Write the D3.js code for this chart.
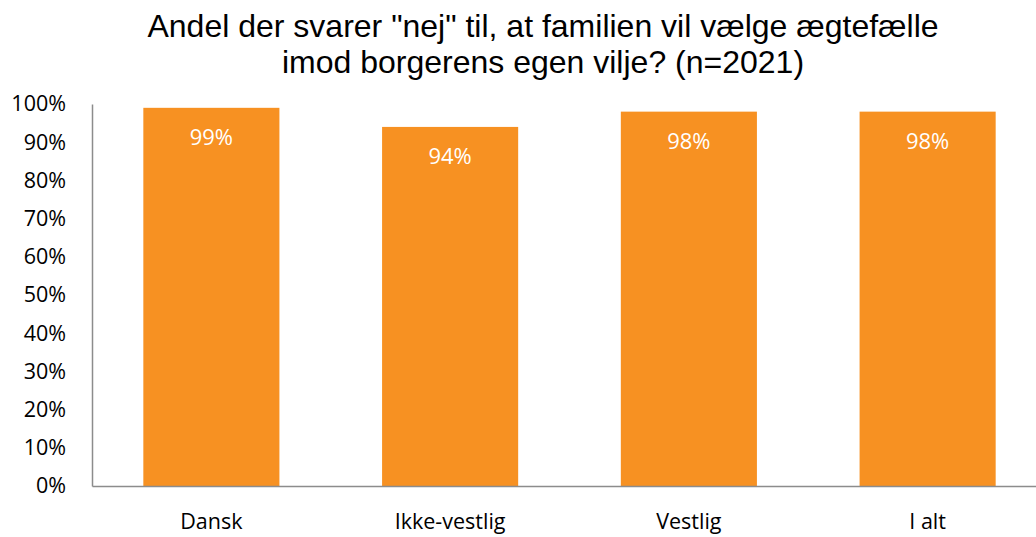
<!DOCTYPE html>
<html><head><meta charset="utf-8">
<script src="https://cdn.jsdelivr.net/npm/d3@7"></script>
<style>body{margin:0;background:#fff}svg{display:block}</style>
</head><body>
<svg id="c" width="1036" height="537"></svg>
<script>
const categories = ["Dansk", "Ikke-vestlig", "Vestlig", "I alt"];
const values = [0.99, 0.94, 0.98, 0.98];
const valueLabels = ["99%", "94%", "98%", "98%"];
const yTicks = [0, 0.1, 0.2, 0.3, 0.4, 0.5, 0.6, 0.7, 0.8, 0.9, 1.0];
const titleLines = ["Andel der svarer \"nej\" til, at familien vil vælge ægtefælle", "imod borgerens egen vilje? (n=2021)"];

const svg = d3.select("#c");
const x = d3.scaleBand().domain(categories).range([92, 1047]).paddingInner(0.43).paddingOuter(0.215);
const y = d3.scaleLinear().domain([0, 1]).range([486, 104]);
const lblFont = "'Open Sans', sans-serif";

// title
svg.append("g").selectAll("text").data(titleLines).join("text")
  .attr("x", 543).attr("y", (d, i) => 37 + i * 36)
  .attr("text-anchor", "middle")
  .attr("font-family", "'Liberation Sans', Arial, sans-serif")
  .attr("font-size", 32).attr("fill", "#000")
  .text(d => d);

// bars
svg.append("g").selectAll("rect").data(values).join("rect")
  .attr("x", (d, i) => x(categories[i])).attr("width", x.bandwidth())
  .attr("y", d => y(d)).attr("height", d => y(0) - y(d))
  .attr("fill", "#F79122");

// value labels
svg.append("g").selectAll("text").data(values).join("text")
  .attr("x", (d, i) => x(categories[i]) + x.bandwidth() / 2)
  .attr("y", d => y(d) + 37)
  .attr("text-anchor", "middle").attr("fill", "#fff")
  .attr("font-family", lblFont).attr("font-size", 22)
  .text((d, i) => valueLabels[i]);

// y axis
const ya = svg.append("g").attr("transform", "translate(92,0)")
  .call(d3.axisLeft(y).tickValues(yTicks).tickFormat(d3.format(".0%")).tickSize(0).tickPadding(26));
ya.select(".domain").attr("stroke", "#8c8c8c").attr("stroke-width", 1.5);
ya.selectAll("text").attr("font-family", lblFont).attr("font-size", 21.5).attr("fill", "#000");

// x axis
const xa = svg.append("g").attr("transform", "translate(0,486)")
  .call(d3.axisBottom(x).tickSize(0).tickPadding(28));
xa.select(".domain").attr("stroke", "#8c8c8c").attr("stroke-width", 1.5);
xa.selectAll("text").attr("font-family", lblFont).attr("font-size", 21.5).attr("fill", "#000");
</script>
</body></html>
